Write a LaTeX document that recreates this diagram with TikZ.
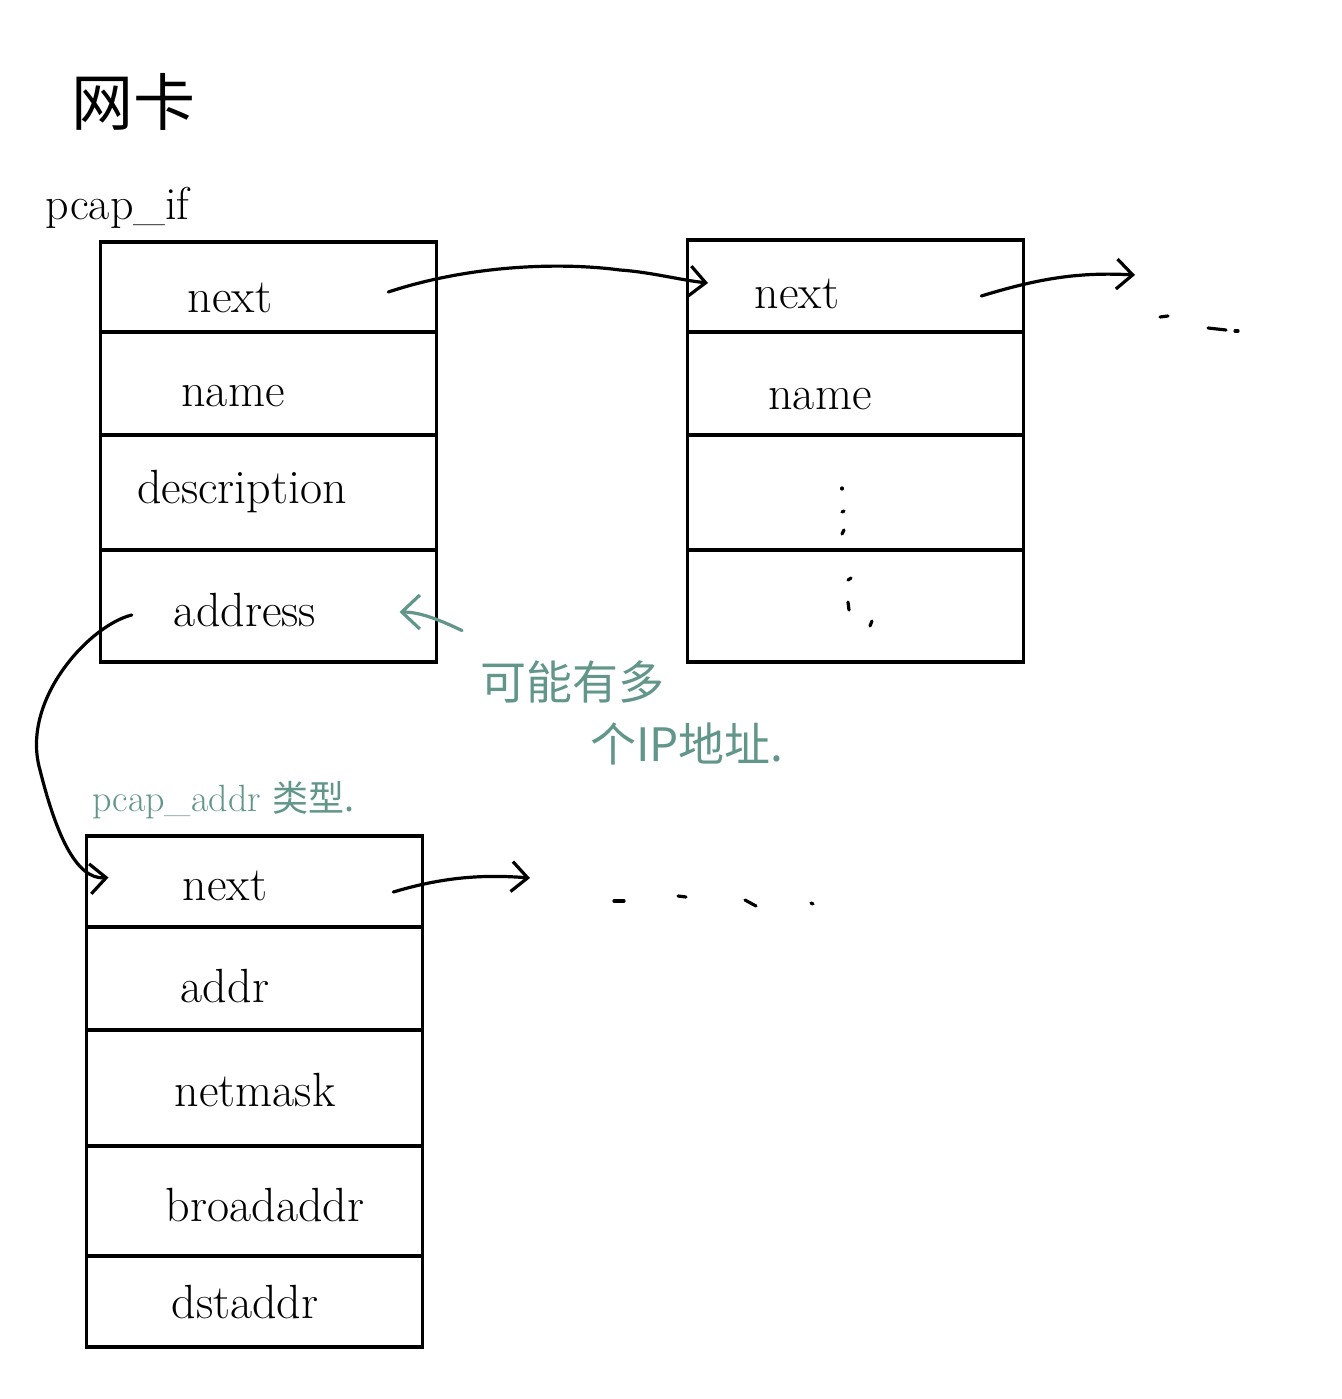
\documentclass[tikz,border=0pt]{standalone}
\usepackage{fontspec}
\newfontfamily\cjk{Noto Sans CJK SC}
\usetikzlibrary{arrows.meta}
\definecolor{note}{HTML}{62968B}
\begin{document}
\begin{tikzpicture}[x=1pt,y=-1pt,
  cell/.style={draw, line width=3.2pt, minimum width=336pt, inner sep=0pt, outer sep=0pt},
  field/.style={font=\fontsize{48}{56}\selectfont, inner sep=2pt},
  link/.style={line width=3.2pt, line cap=round, -{Straight Barb[length=16pt,width=30pt,line width=3.2pt]}},
  notearrow/.style={note, line width=3.2pt, line cap=round, -{Straight Barb[length=18pt,width=34pt,line width=3.2pt]}},
  stroke/.style={line width=3.2pt, line cap=round},
  notetext/.style={note, inner sep=0pt, anchor=west}]
\useasboundingbox[fill=white] (0,0) rectangle (1341,1399);

% title and structure name
\node[font=\cjk\fontsize{62}{70}\selectfont, anchor=west] (title) at (68,102) {网卡};
\node[font=\fontsize{46}{54}\selectfont, anchor=west] (ifname) at (42,208) {pcap\_if};

% first pcap_if element
\node[cell, minimum height=90pt]  (a1) at (268.5,287) {};
\node[cell, minimum height=103pt] (a2) at (268.5,383.5) {};
\node[cell, minimum height=115pt] (a3) at (268.5,492.5) {};
\node[cell, minimum height=112pt] (a4) at (268.5,606) {};
\node[field] (n1) at (230,298) {next};
\node[field] (m1) at (233,396) {name};
\node[field] (d1) at (242,492) {description};
\node[field] (ad1) at (245,610) {address};

% second pcap_if element
\node[cell, minimum height=92pt]  (b1) at (855.5,286) {};
\node[cell, minimum height=103pt] (b2) at (855.5,383.5) {};
\node[cell, minimum height=115pt] (b3) at (855.5,492.5) {};
\node[cell, minimum height=112pt] (b4) at (855.5,606) {};
\node[field] (n2) at (797,294) {next};
\node[field] (m2) at (820,399) {name};
\coordinate (v1) at (842,512);
\coordinate (v2) at (848,602);
\draw[stroke] ([shift={(0,-24)}]v1) -- ++(0,1);
\draw[stroke] (v1) -- ++(2,-1);
\draw[stroke] ([shift={(0,22)}]v1) -- ++(2,-4);
\draw[stroke] ([shift={(0,-22)}]v2) -- ++(3,-2);
\draw[stroke] (v2) -- ++(1,8);
\draw[stroke] ([shift={(22,24)}]v2) -- ++(2,-5);

% first pcap_addr element
\node[cell, minimum height=91pt]  (c1) at (254.5,881.5) {};
\node[cell, minimum height=103pt] (c2) at (254.5,978.5) {};
\node[cell, minimum height=116pt] (c3) at (254.5,1088) {};
\node[cell, minimum height=110pt] (c4) at (254.5,1201) {};
\node[cell, minimum height=91pt]  (c5) at (254.5,1301.5) {};
\node[field] (n3) at (225,886) {next};
\node[field] (aa) at (225,986) {addr};
\node[field] (nm) at (255,1090) {netmask};
\node[field] (ba) at (265,1205) {broadaddr};
\node[field] (da) at (245,1302) {dstaddr};

% next pointers
\coordinate (t1) at (708,283);
\draw[link] ([shift={(114,-6)}]n1.east) .. controls (470,265) and (560,262) .. (620,270) .. controls (650,272) and (680,280) .. (t1);
\coordinate (t2) at (1135,275);
\draw[link] ([shift={(140,2)}]n2.east) .. controls (1040,278) and (1080,272) .. (t2);
\coordinate (t3) at (530,878);
\draw[link] ([shift={(124,6)}]n3.east) .. controls (440,878) and (480,874) .. (t3);

% address points to the pcap_addr list
\draw[link] ([shift={(-40,5)}]ad1.west) .. controls (90,625) and (20,700) .. (40,770) .. controls (55,830) and (75,880) .. ([shift={(22,-4)}]c1.west);

% continuation marks
\draw[stroke] (1160,317) -- (1168,316);
\draw[stroke] (1208,328) -- (1226,330);
\draw[stroke] (1235,331) -- (1238,331);
\draw[stroke] (614,901) -- (624,901);
\draw[stroke] (678,896) -- (686,897);
\draw[stroke] (745,900) -- (756,906);
\draw[stroke] (811,903) -- (813,904);

% annotation
\node[notetext, font=\cjk\fontsize{46}{54}\selectfont] (note1) at (480,682) {可能有多};
\node[notetext, font=\cjk\fontsize{46}{54}\selectfont] (note2) at (590,744) {个IP地址.};
\draw[notearrow] ([shift={(-18,-30)}]note1.north west) .. controls (440,620) and (420,612) .. ([shift={(-37,6)}]a4.east);
\node[notetext] (addrtype) at (92,800) {\fontsize{38}{46}\selectfont pcap\_addr \cjk\fontsize{36}{44}\selectfont 类型.};
\end{tikzpicture}
\end{document}
